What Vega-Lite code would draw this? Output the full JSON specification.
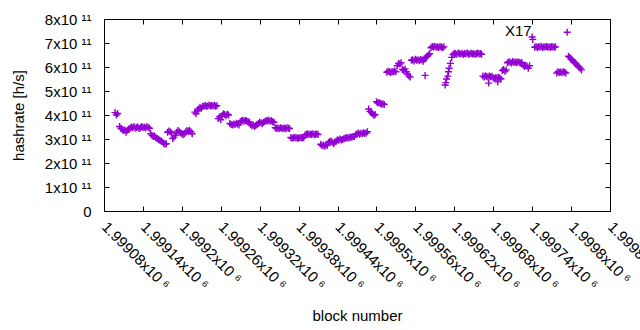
{
  "$schema": "https://vega.github.io/schema/vega-lite/v6.json",
  "width": 506,
  "height": 192,
  "autosize": {"type": "none"},
  "padding": {"left": 104, "top": 19, "right": 30, "bottom": 119},
  "background": "white",
  "config": {
    "font": "Liberation Sans",
    "view": {"stroke": "black", "strokeWidth": 1},
    "axis": {"grid": false, "domain": false, "tickColor": "black", "tickWidth": 1, "labelColor": "black", "titleColor": "black", "labelFontSize": 15, "titleFontSize": 15, "titleFontWeight": "normal", "labelOverlap": false, "labelBound": false, "labelFlush": false}
  },
  "datasets": {
    "pts": [
      {"b":1999097,"h":4.10e11},{"b":1999099,"h":4.00e11},{"b":1999101,"h":4.06e11},
      {"b":1999104,"h":3.52e11},{"b":1999106,"h":3.45e11},{"b":1999108,"h":3.40e11},{"b":1999110,"h":3.35e11},{"b":1999112,"h":3.38e11},{"b":1999114,"h":3.28e11},{"b":1999116,"h":3.36e11},{"b":1999118,"h":3.42e11},
      {"b":1999120,"h":3.45e11},{"b":1999122,"h":3.50e11},{"b":1999124,"h":3.47e11},{"b":1999126,"h":3.52e11},{"b":1999128,"h":3.45e11},{"b":1999130,"h":3.48e11},{"b":1999132,"h":3.50e11},{"b":1999134,"h":3.44e11},{"b":1999136,"h":3.47e11},
      {"b":1999138,"h":3.52e11},{"b":1999140,"h":3.48e11},{"b":1999142,"h":3.50e11},{"b":1999144,"h":3.46e11},{"b":1999146,"h":3.51e11},{"b":1999148,"h":3.49e11},{"b":1999150,"h":3.45e11},
      {"b":1999152,"h":3.22e11},{"b":1999154,"h":3.15e11},{"b":1999156,"h":3.10e11},{"b":1999158,"h":3.12e11},
      {"b":1999160,"h":3.05e11},{"b":1999162,"h":3.02e11},{"b":1999164,"h":2.98e11},{"b":1999166,"h":2.95e11},
      {"b":1999168,"h":2.92e11},{"b":1999170,"h":2.88e11},{"b":1999172,"h":2.82e11},{"b":1999174,"h":2.78e11},{"b":1999176,"h":2.80e11},
      {"b":1999178,"h":3.28e11},{"b":1999180,"h":3.33e11},{"b":1999182,"h":3.30e11},{"b":1999184,"h":3.25e11},{"b":1999186,"h":3.02e11},{"b":1999188,"h":3.08e11},{"b":1999190,"h":3.15e11},
      {"b":1999192,"h":3.28e11},{"b":1999194,"h":3.35e11},{"b":1999196,"h":3.30e11},{"b":1999198,"h":3.26e11},{"b":1999200,"h":3.22e11},{"b":1999202,"h":3.18e11},{"b":1999204,"h":3.22e11},
      {"b":1999206,"h":3.30e11},{"b":1999208,"h":3.35e11},{"b":1999210,"h":3.32e11},{"b":1999212,"h":3.36e11},{"b":1999214,"h":3.30e11},{"b":1999216,"h":3.22e11},
      {"b":1999220,"h":4.12e11},{"b":1999222,"h":4.05e11},{"b":1999224,"h":4.18e11},
      {"b":1999226,"h":4.25e11},{"b":1999228,"h":4.32e11},{"b":1999230,"h":4.28e11},{"b":1999232,"h":4.35e11},{"b":1999234,"h":4.38e11},
      {"b":1999236,"h":4.40e11},{"b":1999238,"h":4.36e11},{"b":1999240,"h":4.38e11},{"b":1999242,"h":4.42e11},{"b":1999244,"h":4.37e11},{"b":1999246,"h":4.40e11},{"b":1999248,"h":4.38e11},{"b":1999250,"h":4.41e11},{"b":1999252,"h":4.36e11},{"b":1999254,"h":4.39e11},
      {"b":1999256,"h":3.85e11},{"b":1999258,"h":3.92e11},{"b":1999260,"h":3.80e11},
      {"b":1999262,"h":3.98e11},{"b":1999264,"h":4.05e11},{"b":1999266,"h":4.02e11},{"b":1999268,"h":3.97e11},{"b":1999270,"h":4.03e11},{"b":1999272,"h":4.00e11},
      {"b":1999274,"h":3.65e11},{"b":1999276,"h":3.60e11},{"b":1999278,"h":3.58e11},{"b":1999280,"h":3.63e11},{"b":1999282,"h":3.60e11},{"b":1999284,"h":3.66e11},{"b":1999286,"h":3.62e11},{"b":1999288,"h":3.58e11},
      {"b":1999290,"h":3.72e11},{"b":1999292,"h":3.76e11},{"b":1999294,"h":3.78e11},{"b":1999296,"h":3.74e11},{"b":1999298,"h":3.77e11},{"b":1999300,"h":3.75e11},{"b":1999302,"h":3.73e11},{"b":1999304,"h":3.70e11},
      {"b":1999306,"h":3.60e11},{"b":1999308,"h":3.55e11},{"b":1999310,"h":3.58e11},{"b":1999312,"h":3.52e11},{"b":1999314,"h":3.56e11},{"b":1999316,"h":3.60e11},
      {"b":1999318,"h":3.65e11},{"b":1999320,"h":3.70e11},{"b":1999322,"h":3.68e11},{"b":1999324,"h":3.64e11},{"b":1999326,"h":3.70e11},
      {"b":1999328,"h":3.73e11},{"b":1999330,"h":3.77e11},{"b":1999332,"h":3.75e11},{"b":1999334,"h":3.78e11},{"b":1999336,"h":3.74e11},{"b":1999338,"h":3.76e11},{"b":1999340,"h":3.72e11},{"b":1999342,"h":3.70e11},
      {"b":1999344,"h":3.47e11},{"b":1999346,"h":3.44e11},{"b":1999348,"h":3.46e11},{"b":1999350,"h":3.43e11},{"b":1999352,"h":3.47e11},{"b":1999354,"h":3.45e11},{"b":1999356,"h":3.44e11},{"b":1999358,"h":3.46e11},{"b":1999360,"h":3.43e11},{"b":1999362,"h":3.47e11},{"b":1999364,"h":3.45e11},{"b":1999366,"h":3.44e11},
      {"b":1999368,"h":3.06e11},{"b":1999370,"h":3.03e11},{"b":1999372,"h":3.05e11},{"b":1999374,"h":3.07e11},{"b":1999376,"h":3.04e11},{"b":1999378,"h":3.05e11},{"b":1999380,"h":3.03e11},{"b":1999382,"h":3.06e11},{"b":1999384,"h":3.05e11},{"b":1999386,"h":3.04e11},{"b":1999388,"h":3.06e11},
      {"b":1999390,"h":3.17e11},{"b":1999392,"h":3.20e11},{"b":1999394,"h":3.22e11},{"b":1999396,"h":3.18e11},{"b":1999398,"h":3.21e11},{"b":1999400,"h":3.19e11},{"b":1999402,"h":3.22e11},{"b":1999404,"h":3.18e11},{"b":1999406,"h":3.20e11},{"b":1999408,"h":3.21e11},{"b":1999410,"h":3.19e11},
      {"b":1999414,"h":2.78e11},{"b":1999416,"h":2.72e11},{"b":1999418,"h":2.75e11},{"b":1999420,"h":2.70e11},{"b":1999422,"h":2.76e11},{"b":1999424,"h":2.73e11},
      {"b":1999426,"h":2.85e11},{"b":1999428,"h":2.90e11},{"b":1999430,"h":2.92e11},{"b":1999432,"h":2.86e11},{"b":1999434,"h":2.80e11},{"b":1999436,"h":2.88e11},
      {"b":1999438,"h":2.92e11},{"b":1999440,"h":2.97e11},{"b":1999442,"h":2.95e11},{"b":1999444,"h":3.00e11},{"b":1999446,"h":2.96e11},{"b":1999448,"h":2.98e11},{"b":1999450,"h":3.02e11},
      {"b":1999452,"h":3.03e11},{"b":1999454,"h":3.06e11},{"b":1999456,"h":3.04e11},{"b":1999458,"h":3.05e11},{"b":1999460,"h":3.08e11},{"b":1999462,"h":3.07e11},{"b":1999464,"h":3.10e11},{"b":1999466,"h":3.10e11},
      {"b":1999468,"h":3.18e11},{"b":1999470,"h":3.22e11},{"b":1999472,"h":3.25e11},{"b":1999474,"h":3.20e11},{"b":1999476,"h":3.24e11},{"b":1999478,"h":3.22e11},{"b":1999480,"h":3.26e11},{"b":1999482,"h":3.23e11},{"b":1999484,"h":3.25e11},{"b":1999486,"h":3.30e11},
      {"b":1999488,"h":4.25e11},{"b":1999490,"h":4.15e11},{"b":1999492,"h":4.10e11},
      {"b":1999494,"h":4.05e11},{"b":1999496,"h":3.98e11},{"b":1999498,"h":4.02e11},
      {"b":1999500,"h":4.55e11},{"b":1999502,"h":4.50e11},{"b":1999504,"h":4.52e11},{"b":1999506,"h":4.48e11},{"b":1999508,"h":4.45e11},{"b":1999510,"h":4.47e11},{"b":1999512,"h":4.44e11},
      {"b":1999516,"h":5.78e11},{"b":1999518,"h":5.82e11},{"b":1999520,"h":5.80e11},{"b":1999522,"h":5.76e11},{"b":1999524,"h":5.81e11},{"b":1999526,"h":5.79e11},{"b":1999528,"h":5.83e11},{"b":1999530,"h":5.80e11},
      {"b":1999532,"h":6.05e11},{"b":1999534,"h":6.15e11},{"b":1999536,"h":6.12e11},{"b":1999538,"h":6.18e11},
      {"b":1999540,"h":5.90e11},{"b":1999542,"h":5.85e11},{"b":1999544,"h":5.92e11},{"b":1999546,"h":5.80e11},
      {"b":1999548,"h":5.70e11},{"b":1999550,"h":5.62e11},{"b":1999552,"h":5.58e11},
      {"b":1999554,"h":6.28e11},{"b":1999556,"h":6.30e11},{"b":1999558,"h":6.25e11},{"b":1999560,"h":6.32e11},{"b":1999562,"h":6.28e11},{"b":1999564,"h":6.30e11},{"b":1999566,"h":6.26e11},{"b":1999568,"h":6.31e11},{"b":1999570,"h":6.29e11},{"b":1999572,"h":6.24e11},{"b":1999574,"h":6.33e11},
      {"b":1999575,"h":5.65e11},
      {"b":1999576,"h":6.40e11},{"b":1999578,"h":6.45e11},{"b":1999580,"h":6.50e11},{"b":1999582,"h":6.55e11},
      {"b":1999584,"h":6.80e11},{"b":1999586,"h":6.85e11},{"b":1999588,"h":6.83e11},{"b":1999590,"h":6.86e11},{"b":1999592,"h":6.82e11},{"b":1999594,"h":6.84e11},{"b":1999596,"h":6.81e11},{"b":1999598,"h":6.85e11},{"b":1999600,"h":6.83e11},{"b":1999602,"h":6.80e11},{"b":1999604,"h":6.84e11},
      {"b":1999606,"h":5.25e11},{"b":1999607,"h":5.35e11},{"b":1999608,"h":5.50e11},{"b":1999610,"h":5.62e11},{"b":1999611,"h":5.80e11},{"b":1999612,"h":5.95e11},{"b":1999614,"h":6.15e11},{"b":1999616,"h":6.40e11},
      {"b":1999618,"h":6.52e11},{"b":1999620,"h":6.57e11},{"b":1999622,"h":6.55e11},{"b":1999624,"h":6.53e11},{"b":1999626,"h":6.58e11},{"b":1999628,"h":6.55e11},{"b":1999630,"h":6.54e11},{"b":1999632,"h":6.57e11},{"b":1999634,"h":6.52e11},{"b":1999636,"h":6.56e11},{"b":1999638,"h":6.55e11},{"b":1999640,"h":6.58e11},{"b":1999642,"h":6.53e11},{"b":1999644,"h":6.55e11},{"b":1999646,"h":6.57e11},{"b":1999648,"h":6.54e11},{"b":1999650,"h":6.56e11},{"b":1999652,"h":6.52e11},{"b":1999654,"h":6.55e11},{"b":1999656,"h":6.58e11},{"b":1999658,"h":6.54e11},{"b":1999660,"h":6.56e11},{"b":1999662,"h":6.53e11},
      {"b":1999664,"h":5.62e11},{"b":1999666,"h":5.58e11},{"b":1999668,"h":5.64e11},{"b":1999670,"h":5.60e11},{"b":1999672,"h":5.57e11},{"b":1999673,"h":5.33e11},{"b":1999674,"h":5.62e11},{"b":1999676,"h":5.59e11},{"b":1999678,"h":5.61e11},
      {"b":1999680,"h":5.55e11},{"b":1999682,"h":5.52e11},{"b":1999684,"h":5.56e11},{"b":1999686,"h":5.53e11},{"b":1999687,"h":5.38e11},{"b":1999688,"h":5.57e11},{"b":1999690,"h":5.54e11},{"b":1999692,"h":5.50e11},
      {"b":1999694,"h":5.85e11},{"b":1999696,"h":5.90e11},{"b":1999698,"h":5.82e11},{"b":1999700,"h":5.88e11},
      {"b":1999702,"h":6.18e11},{"b":1999704,"h":6.22e11},{"b":1999706,"h":6.20e11},{"b":1999708,"h":6.17e11},{"b":1999710,"h":6.23e11},{"b":1999712,"h":6.19e11},{"b":1999714,"h":6.21e11},{"b":1999716,"h":6.18e11},{"b":1999718,"h":6.22e11},{"b":1999720,"h":6.20e11},{"b":1999722,"h":6.17e11},{"b":1999724,"h":6.19e11},
      {"b":1999726,"h":6.08e11},{"b":1999728,"h":6.02e11},{"b":1999730,"h":6.06e11},{"b":1999732,"h":6.04e11},{"b":1999734,"h":5.95e11},{"b":1999736,"h":6.05e11},
      {"b":1999740,"h":7.25e11},{"b":1999741,"h":7.15e11},
      {"b":1999744,"h":6.82e11},{"b":1999746,"h":6.85e11},{"b":1999748,"h":6.81e11},{"b":1999750,"h":6.84e11},{"b":1999752,"h":6.83e11},{"b":1999754,"h":6.86e11},{"b":1999756,"h":6.80e11},{"b":1999758,"h":6.84e11},{"b":1999760,"h":6.83e11},{"b":1999762,"h":6.85e11},{"b":1999764,"h":6.82e11},{"b":1999766,"h":6.84e11},{"b":1999768,"h":6.81e11},{"b":1999770,"h":6.85e11},{"b":1999772,"h":6.83e11},{"b":1999774,"h":6.82e11},{"b":1999776,"h":6.84e11},
      {"b":1999778,"h":5.75e11},{"b":1999780,"h":5.80e11},{"b":1999782,"h":5.77e11},{"b":1999784,"h":5.79e11},{"b":1999786,"h":5.76e11},{"b":1999788,"h":5.80e11},{"b":1999790,"h":5.78e11},{"b":1999792,"h":5.75e11},
      {"b":1999794,"h":7.45e11},
      {"b":1999796,"h":6.45e11},{"b":1999798,"h":6.40e11},{"b":1999800,"h":6.32e11},{"b":1999802,"h":6.28e11},{"b":1999804,"h":6.22e11},{"b":1999806,"h":6.18e11},{"b":1999808,"h":6.12e11},{"b":1999810,"h":6.05e11},{"b":1999812,"h":6.00e11},{"b":1999814,"h":5.95e11},{"b":1999816,"h":5.88e11}
    ],
    "lbl": [{"b": 1999698, "h": 7.5e11, "t": "X17"}]
  },
  "layer": [
    {
      "data": {"name": "pts"},
      "mark": {"type": "point", "shape": "M-1,0H1M0,-1V1", "filled": false, "stroke": "#9400D3", "strokeWidth": 1.4, "size": 49, "opacity": 1},
      "encoding": {
        "x": {"field": "b", "type": "quantitative", "scale": {"domain": [1999080, 1999860], "nice": false, "zero": false},
          "axis": {"orient": "bottom", "values": [1999080,1999140,1999200,1999260,1999320,1999380,1999440,1999500,1999560,1999620,1999680,1999740,1999800,1999860],
            "tickSize": -5, "labelPadding": 18, "labelAngle": 45, "labelAlign": "left", "labelBaseline": "middle",
            "labelExpr": "format(datum.value/1e6, '.5~f') + 'x10 \u2076'",
            "title": "block number", "titleX": 253, "titleY": 104, "titleAlign": "center", "titleBaseline": "middle"}},
        "y": {"field": "h", "type": "quantitative", "scale": {"domain": [0, 8e11], "nice": false, "zero": true},
          "axis": {"orient": "left", "values": [0,1e11,2e11,3e11,4e11,5e11,6e11,7e11,8e11],
            "tickSize": -5, "labelPadding": 18,
            "labelExpr": "datum.value == 0 ? '0' : format(datum.value/1e11, 'd') + 'x10 \u00b9\u00b9'",
            "title": "hashrate [h/s]", "titleX": -86, "titleY": 96, "titleAngle": -90, "titleAlign": "center", "titleBaseline": "middle"}}
      }
    },
    {
      "data": {"name": "lbl"},
      "mark": {"type": "text", "align": "left", "baseline": "middle", "fontSize": 15, "color": "black", "font": "Liberation Sans"},
      "encoding": {
        "x": {"field": "b", "type": "quantitative", "axis": {"orient": "top", "values": [1999080,1999140,1999200,1999260,1999320,1999380,1999440,1999500,1999560,1999620,1999680,1999740,1999800,1999860], "tickSize": -5, "labels": false, "title": null}},
        "y": {"field": "h", "type": "quantitative", "axis": {"orient": "right", "values": [0,1e11,2e11,3e11,4e11,5e11,6e11,7e11,8e11], "tickSize": -5, "labels": false, "title": null}},
        "text": {"field": "t", "type": "nominal"}
      }
    }
  ],
  "resolve": {"axis": {"x": "independent", "y": "independent"}}
}
